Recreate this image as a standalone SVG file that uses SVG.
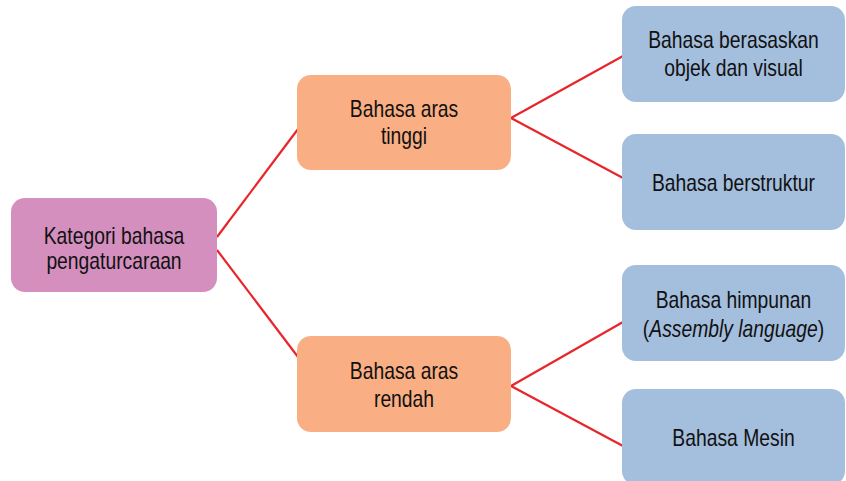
<svg xmlns="http://www.w3.org/2000/svg" width="846" height="481" viewBox="0 0 846 481">
<style>
.t{font-family:"Liberation Sans",Arial,sans-serif;font-size:23px;fill:#111;text-anchor:middle}
.root{fill:#D48FBF}
.mid{fill:#F9AF83}
.leaf{fill:#A4BEDD}
.c{stroke:#E8252B;stroke-width:2.2;fill:none}
</style>
<rect width="846" height="481" fill="#fff"/>
<g id="connectors">
<line class="c" x1="217" y1="237" x2="298" y2="129"/>
<line class="c" x1="217" y1="250" x2="298" y2="357"/>
<line class="c" x1="511" y1="118" x2="623" y2="56"/>
<line class="c" x1="511" y1="118" x2="623" y2="178"/>
<line class="c" x1="511" y1="386" x2="623" y2="322"/>
<line class="c" x1="511" y1="386" x2="623" y2="446"/>
</g>
<g id="root">
<rect class="root" x="11" y="198" width="206" height="94" rx="14"/>
<text class="t" transform="translate(114,244) scale(0.84,1)">Kategori bahasa</text>
<text class="t" transform="translate(114,269) scale(0.84,1)">pengaturcaraan</text>
</g>
<g id="high">
<rect class="mid" x="297" y="75" width="214" height="95" rx="14"/>
<text class="t" transform="translate(404,117) scale(0.84,1)">Bahasa aras</text>
<text class="t" transform="translate(404,144) scale(0.84,1)">tinggi</text>
</g>
<g id="low">
<rect class="mid" x="297" y="336" width="214" height="96" rx="14"/>
<text class="t" transform="translate(404,379) scale(0.84,1)">Bahasa aras</text>
<text class="t" transform="translate(404,407) scale(0.84,1)">rendah</text>
</g>
<g id="oop">
<rect class="leaf" x="622" y="6" width="223" height="96" rx="14"/>
<text class="t" transform="translate(733.5,48) scale(0.84,1)">Bahasa berasaskan</text>
<text class="t" transform="translate(733.5,76) scale(0.84,1)">objek dan visual</text>
</g>
<g id="structured">
<rect class="leaf" x="622" y="134" width="223" height="96" rx="14"/>
<text class="t" transform="translate(733.5,191) scale(0.84,1)">Bahasa berstruktur</text>
</g>
<g id="assembly">
<rect class="leaf" x="622" y="265" width="223" height="96" rx="14"/>
<text class="t" transform="translate(733.5,308) scale(0.84,1)">Bahasa himpunan</text>
<text class="t" transform="translate(733.5,337) scale(0.84,1)">(<tspan font-style="italic">Assembly language</tspan>)</text>
</g>
<g id="machine">
<rect class="leaf" x="622" y="389" width="223" height="96" rx="14"/>
<text class="t" transform="translate(733.5,446) scale(0.84,1)">Bahasa Mesin</text>
</g>
</svg>
